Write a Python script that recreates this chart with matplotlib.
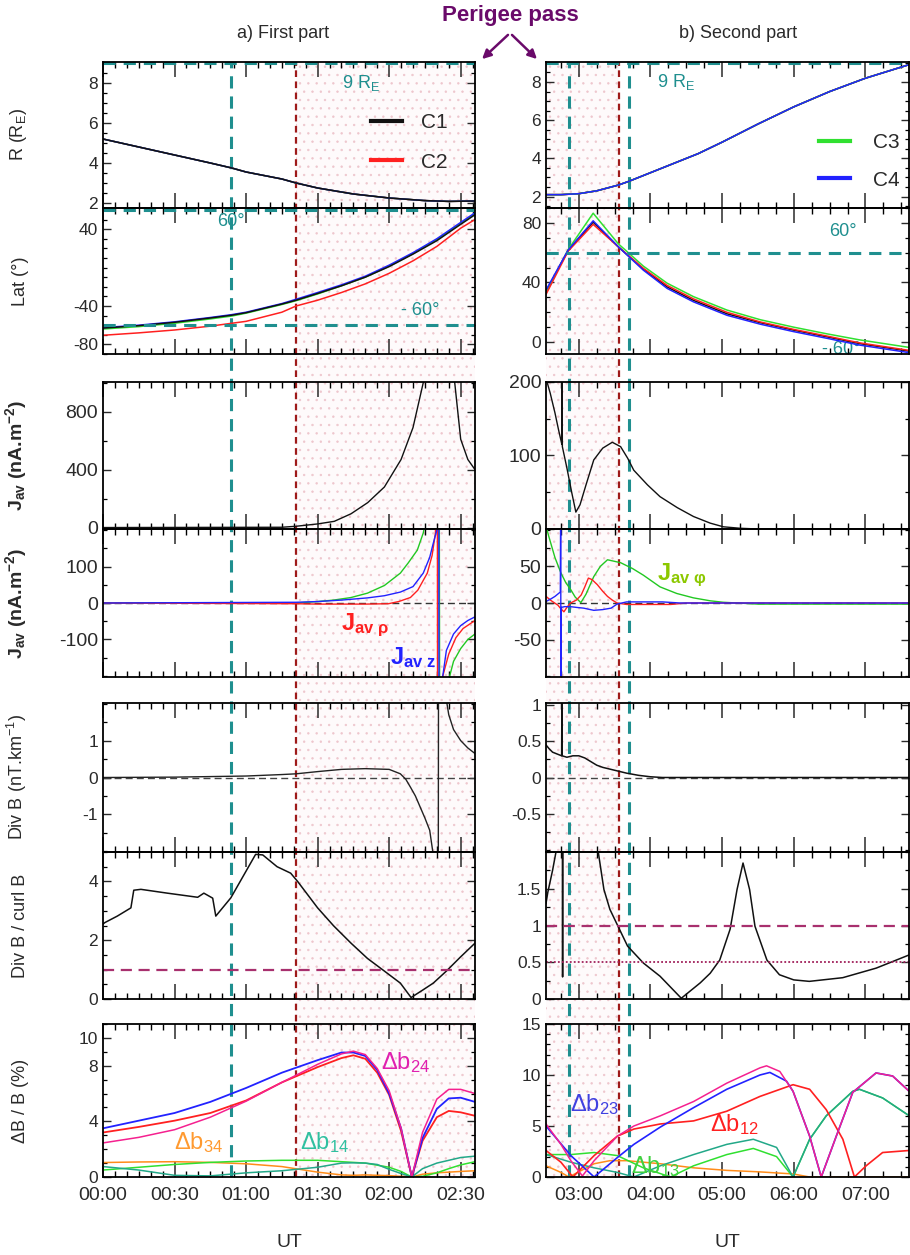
import matplotlib
matplotlib.use('Agg')
import matplotlib.pyplot as plt
from matplotlib.ticker import MultipleLocator, FuncFormatter
from matplotlib.lines import Line2D
from matplotlib.patches import FancyArrowPatch

plt.rcParams['font.family'] = ['Liberation Sans', 'DejaVu Sans']
plt.rcParams['mathtext.fontset'] = 'custom'
plt.rcParams['mathtext.rm'] = 'Liberation Sans'
plt.rcParams['mathtext.it'] = 'Liberation Sans:italic'
plt.rcParams['mathtext.bf'] = 'Liberation Sans:bold'
plt.rcParams['hatch.linewidth'] = 0.5
plt.rcParams['axes.unicode_minus'] = False

# ---------------- data (time in minutes after 00:00 UT) ----------------
# perigee pass / latitude crossings
t_perigee = [81, 213.3]
t_lat60_left = [53.5]
t_lat60_right = [171.7, 221.7]

# R (RE)
r_t_left = [0, 15, 30, 45, 54, 60, 75, 81, 90, 105, 120, 135, 145, 156]
r_left = [5.2, 4.8, 4.4, 4.0, 3.75, 3.55, 3.2, 3.0, 2.75, 2.45, 2.25, 2.12, 2.08, 2.1]
r_t_right = [152.5, 165, 180, 195, 213, 222, 240, 260, 280, 300, 330, 360, 390, 420, 456]
r_right = [2.1, 2.1, 2.15, 2.3, 2.6, 2.8, 3.25, 3.75, 4.25, 4.85, 5.8, 6.7, 7.5, 8.2, 8.9]

# latitude
lat_t_left = [0, 15, 30, 45, 54, 60, 75, 81, 90, 100, 110, 120, 130, 140, 150, 156]
lat_c1_left = [-63, -60.5, -57, -52.5, -49.6, -47, -38, -34, -27, -19, -10, 1, 14, 28, 45, 55]
lat_c2_left = [-70.5, -68, -65, -61, -58, -56, -46.5, -40, -34, -26, -17, -6, 7, 22, 41, 50]
lat_c3_left = [-64, -61.5, -58, -53.5, -50.5, -47.5, -38.5, -34.5, -27.5, -19, -10, 1.5, 14.5, 29, 46, 56]
lat_c4_left = [-62.5, -60, -56.5, -52, -49, -46.5, -37.5, -33, -26, -18, -9, 2.5, 15.5, 30, 47, 57]
lat_t_right = [152.5, 171, 192, 213, 234, 254, 276, 304, 332, 360, 388, 415, 456]
lat_c1_right = [34, 61.5, 80.5, 64, 49, 37, 28, 19, 13, 8, 3.5, -1, -6]
lat_c2_right = [32, 61, 79, 64, 49.5, 38, 29, 20, 13.5, 8.5, 4, -0.5, -5.5]
lat_c3_right = [33, 62, 86.5, 66, 51, 39.5, 30.5, 21.5, 15, 10, 5.5, 1.5, -3.5]
lat_c4_right = [34.9, 61.7, 81.4, 64, 48.3, 36, 27, 18, 12, 7, 2.5, -2, -7]

# |J av|
jav_t_left = [0, 75, 81, 90, 97, 104, 111, 118, 125, 130, 134.3, 136, 146, 147.5, 150, 153, 156]
jav_left = [0, 2, 9, 25, 43, 95, 172, 280, 470, 690, 1000, 1200, 1200, 1000, 610, 470, 400]
jav_t_right = [152.5, 156, 160, 163, 165.8, 166, 166.2, 170, 174, 177.5, 181, 186, 192.5, 200, 208, 215,
               221, 226, 237.5, 248, 262.5, 276, 290, 301, 315, 330, 456]
jav_right = [205, 185, 158, 135, 115, 205, 112, 83, 50, 23, 33, 60, 94, 110, 118, 112,
             96, 80, 60, 44, 29, 17, 8, 3, 1, 0, 0]

# J components (left)
jphi_t_left = [0, 81, 90, 96.7, 104, 110.9, 118, 124.7, 128, 131.8, 134.3, 135.5, 141, 141.2, 145, 147, 150, 153, 156]
jphi_left = [0, 0, 4, 8, 15, 27, 48, 82, 110, 145, 192, 230, 400, -400, -210, -160, -125, -100, -85]
jz_t_left = [0, 81, 90, 100, 110.9, 118, 124.7, 130, 134.3, 137, 138.5, 140, 140.8, 140.9, 142.5, 144, 147, 150, 153, 156]
jz_left = [0, 2, 4, 8, 14, 20, 30, 45, 82, 125, 164, 200, 400, -400, -200, -130, -85, -62, -48, -38]
jrho_t_left = [0, 81, 90, 100, 110, 119.7, 124, 128.9, 132, 136, 138, 139.4, 140.2, 140.3, 142.5, 145, 148, 151, 156]
jrho_left = [0, -2, -3, -3, -3, -2, 4, 15, 35, 82, 130, 192, 400, -400, -200, -140, -95, -70, -48]

# J components (right)
jphi_t_right = [152.5, 155, 160, 165, 169, 173.3, 177, 181.7, 186, 192.5, 198, 204, 215, 225, 234, 248,
                262, 276, 290, 301, 330, 456]
jphi_right = [105, 90, 62, 41, 28, 18, 8, 0.5, 12, 36, 50, 59, 55, 47, 38, 22, 13, 7, 3, 1, -1.5, -1.5]
jrho_t_right = [152.5, 157, 162.5, 165, 167.5, 170, 173, 178, 182, 185, 188, 191, 195.5, 200, 204, 208,
                212, 220, 257, 270, 456]
jrho_right = [9, 3, -3, -8, -12, -6, 0, 4, 11, 22, 34, 32, 25, 16, 9, 4, 0, -2, -2, 0, 0]
jz_t_right = [152.5, 157, 160, 164.5, 164.8, 165.0, 165.3, 168, 173, 178, 184, 192.5, 200, 207, 212, 220,
              250, 265, 456]
jz_right = [2, 6, 9, 15, 150, -150, -6, -5, -5, -6, -7, -10, -9, -7, -1.5, 1.5, 1.5, 0, 0]

# Div B
divb_t_left = [0, 30, 60, 75, 81, 90, 100, 110, 120, 124.7, 127, 129, 131, 133, 135, 137, 138.5, 140.6,
               140.7, 144, 145, 147, 150, 153, 156]
divb_left = [0, 0.01, 0.04, 0.08, 0.1, 0.16, 0.22, 0.24, 0.22, 0.1, -0.05, -0.27, -0.5, -0.8, -1.1, -1.43,
             -2.1, -3, 3, 2.1, 1.7, 1.3, 1.0, 0.8, 0.65]
divb_t_right = [152.5, 155, 158, 165.6, 165.8, 166, 170, 175, 180, 185, 190, 195, 200, 210, 220, 230, 240,
                250, 456]
divb_right = [0.45, 0.4, 0.35, 0.3, 1.1, 0.3, 0.28, 0.3, 0.3, 0.27, 0.22, 0.17, 0.14, 0.1, 0.06, 0.03,
              0.01, 0, 0]

# Div B / curl B
ratio_t_left = [0, 0.8, 6, 11.7, 12.9, 15.9, 27, 39.7, 42.3, 46, 47.3, 53.6, 60.7, 64, 67, 73, 78.7, 81.6,
                90, 96.7, 104, 110.9, 118, 124.7, 129.2, 134, 138.5, 144, 149.8, 156]
ratio_left = [2.55, 2.6, 2.82, 3.1, 3.7, 3.73, 3.6, 3.46, 3.6, 3.43, 2.82, 3.44, 4.45, 4.92, 4.9, 4.5, 4.28,
              4.0, 3.1, 2.49, 1.9, 1.38, 0.95, 0.54, 0.05, 0.3, 0.54, 0.95, 1.42, 1.9]
ratio_t_right = [152.5, 154, 158, 162, 164, 166.2, 166.4, 166.6, 180, 195.8, 201, 206, 212.5, 220.8, 234,
                 248, 265.8, 281.7, 290, 298, 306.7, 312.5, 317.5, 323, 327.5, 337.5, 348, 360, 373, 401,
                 429, 456.7]
ratio_right = [1.3, 1.45, 1.75, 2.1, 2.5, 2.5, 0.3, 2.5, 3.5, 2.05, 1.49, 1.22, 1.0, 0.72, 0.49, 0.31,
               0.01, 0.22, 0.35, 0.53, 0.95, 1.49, 1.85, 1.49, 0.99, 0.53, 0.33, 0.26, 0.24, 0.29,
               0.42, 0.6]

# Delta B / B (%)
db_t_left = [0, 15, 30, 45, 60, 75, 90, 100, 105, 110, 115, 120, 125, 129.5, 134, 140, 145, 150, 156]
db23_left = [3.5, 4.05, 4.6, 5.4, 6.4, 7.5, 8.4, 8.95, 8.95, 8.7, 7.7, 6.0, 3.5, 0, 2.8, 4.9, 5.65, 5.7, 5.4]
db24_left = [2.45, 2.85, 3.4, 4.3, 5.45, 6.8, 8.1, 8.85, 9.05, 8.8, 7.8, 6.2, 3.5, 0, 3.2, 5.6, 6.3, 6.3, 6.0]
db12_left = [3.2, 3.6, 4.05, 4.6, 5.5, 6.8, 7.9, 8.55, 8.75, 8.5, 7.5, 5.9, 3.3, 0, 2.6, 4.3, 4.75, 4.65, 4.4]
db34_left = [1.04, 1.08, 1.1, 1.05, 0.95, 0.75, 0.35, 0.15, 0.12, 0.15, 0.12, 0.1, 0.05, 0, 0.2, 0.3, 0.35, 0.4, 0.45]
db13_left = [0.5, 0.7, 0.9, 1.05, 1.15, 1.2, 1.2, 1.1, 1.05, 1.0, 0.85, 0.7, 0.4, 0, 0.05, 0.3, 0.6, 0.87, 1.1]
db14_left = [0.75, 0.5, 0.12, 0.08, 0.3, 0.45, 0.7, 1.0, 1.02, 1.0, 0.9, 0.55, 0.25, 0, 0.6, 1.0, 1.2, 1.4, 1.5]

db24_t_right = [152.5, 165, 173.3, 183, 192.8, 212.2, 226.1, 248.3, 276.1, 303.9, 331.7, 337.2, 348.3, 359.4,
                373.3, 383, 395.6, 409.4, 428.9, 442.8, 456.7]
db24_right = [5.2, 3.2, 1.6, 0.1, 1.6, 4.0, 5.0, 6.0, 7.4, 9.2, 10.7, 10.9, 10.35, 8.4, 4.0, 0, 4.0, 8.3,
              10.2, 9.9, 8.4]
db23_t_right = [152.5, 173.3, 192.8, 212.2, 226.1, 248.3, 276.1, 303.9, 331.7, 340, 353.9, 359.4, 373.3, 383,
                395.6, 409.4, 428.9, 442.8, 456.7]
db23_right = [5.0, 2.1, 0, 1.9, 3.2, 4.9, 6.8, 8.6, 10.0, 10.25, 9.4, 8.4, 4.0, 0, 4.0, 8.3, 10.2, 9.9, 8.4]
db12_t_right = [152.5, 165, 175, 192.8, 212.2, 226.1, 248.3, 276.1, 303.9, 331.7, 359.4, 373.3, 387.2, 401.1,
                410.8, 420.6, 434.4, 456.7]
db12_right = [2.6, 1.45, 0, 2.1, 4.0, 4.7, 5.2, 5.5, 6.45, 7.9, 9.05, 8.6, 6.6, 3.7, 0, 1.1, 2.4, 2.6]
db14_t_right = [152.5, 173.3, 192.8, 212.2, 226.1, 248.3, 276.1, 303.9, 326.1, 345.6, 359.4, 373.3, 387.2,
                409.4, 415, 434.4, 456.7]
db14_right = [2.2, 1.45, 0.9, 0.45, 0, 1.1, 2.2, 3.2, 3.7, 2.9, 0, 3.7, 6.0, 8.4, 8.6, 7.75, 6.0]
db13_t_right = [152.5, 173.3, 192.8, 212.2, 234, 256.7, 276.1, 303.9, 326.1, 345.6, 359.4, 373.3, 387.2,
                409.4, 415, 434.4, 456.7]
db13_right = [2.2, 2.2, 2.4, 2.1, 0.9, 0, 1.1, 2.2, 2.8, 2.0, 0, 3.7, 6.0, 8.4, 8.6, 7.75, 6.0]
db34_t_right = [152.5, 165, 171.7, 192.8, 206, 220, 248.3, 276.1, 303.9, 331.7, 359.4, 373.3, 456.7]
db34_right = [1.1, 0.45, 0, 1.3, 1.6, 1.6, 1.3, 0.9, 0.65, 0.5, 0.3, 0, 0]

# ---------------- styling ----------------
TEAL = '#1f8f8f'
BROWN = '#9e1a1a'
BLK, RED, GRN, BLU = '#111111', '#ff2020', '#30e030', '#2222ff'
MAG, ORA, TEA = '#f5208f', '#ff8c1a', '#22a888'
PURP = '#6a0a6a'
TXT = '#2a2a2a'

W, H = 910, 1255
fig = plt.figure(figsize=(9.1, 12.55), dpi=100)


def rect(x0, x1, y0, y1):
    return [x0 / W, 1 - y1 / H, (x1 - x0) / W, (y1 - y0) / H]


rows = [(62, 208), (208, 354), (382, 529), (529, 677), (703, 852), (852, 999), (1024, 1177)]
cols = {'left': (103, 475, (0, 156)), 'right': (546, 909, (152.5, 456.5))}


def fmt_time(m, pos):
    m = int(round(m))
    return f'{m // 60:02d}:{m % 60:02d}'


axes = {}
for side, (x0, x1, xlim) in cols.items():
    bg = fig.add_axes(rect(x0, x1, rows[0][0], rows[-1][1]))
    bg.set_zorder(0)
    bg.set_xlim(*xlim)
    bg.set_ylim(0, 1)
    bg.axis('off')
    bg.axvspan(t_perigee[0], t_perigee[1], facecolor='#fefafb', edgecolor='#eec6cd',
               hatch='..', lw=0)
    lines60 = t_lat60_left if side == 'left' else t_lat60_right
    for t in lines60:
        bg.axvline(t, color=TEAL, lw=2.2, ls=(0, (4, 2.6)))
    if side == 'left':
        bg.axvline(t_perigee[0], color=BROWN, lw=1.6, ls=(0, (3, 2)))
    else:
        bg.axvline(t_perigee[1], color=BROWN, lw=1.6, ls=(0, (3, 2)))

    panel = []
    for i, (y0, y1) in enumerate(rows):
        ax = fig.add_axes(rect(x0, x1, y0, y1))
        ax.set_zorder(1)
        ax.set_facecolor('none')
        ax.set_xlim(*xlim)
        for s in ax.spines.values():
            s.set_linewidth(1.3)
        if side == 'left':
            ax.xaxis.set_major_locator(MultipleLocator(30))
            ax.xaxis.set_minor_locator(MultipleLocator(5))
        else:
            ax.set_xticks([180, 240, 300, 360, 420])
            ax.xaxis.set_minor_locator(MultipleLocator(15))
        ax.xaxis.set_major_formatter(FuncFormatter(fmt_time))
        ax.yaxis.set_major_formatter(FuncFormatter(lambda v, pos: f'{v:g}'))
        ax.tick_params(axis='x', which='major', direction='in', top=True, bottom=True,
                       length=11, width=1.1, labelsize=14, colors=TXT, pad=7)
        ax.tick_params(axis='x', which='minor', direction='in', top=True, bottom=True,
                       length=4.5, width=1.0)
        ax.tick_params(axis='y', which='major', direction='in', left=True, right=True,
                       length=6, width=1.0, labelsize=12.5, colors=TXT)
        ax.tick_params(axis='y', which='minor', direction='in', left=True, right=True,
                       length=3, width=0.9)
        if i < len(rows) - 1:
            ax.tick_params(axis='x', labelbottom=False)
        panel.append(ax)
    axes[side] = panel

L, R = axes['left'], axes['right']

# ---- panel 1: R ----
ax = L[0]
ax.plot(r_t_left, r_left, color=RED, lw=1.1)
ax.plot(r_t_left, r_left, color=GRN, lw=1.1)
ax.plot(r_t_left, r_left, color=BLU, lw=1.1)
ax.plot(r_t_left, r_left, color=BLK, lw=1.1)
ax.set_ylim(1.75, 9.05)
ax.set_yticks([2, 4, 6, 8])
ax.yaxis.set_minor_locator(MultipleLocator(0.5))
ax.axhline(9, color=TEAL, lw=2.2, ls=(0, (4, 2.6)))
ax.text(108, 8.0, '9 R$_\\mathrm{E}$', color=TEAL, fontsize=13, ha='center', va='center')
ax.set_ylabel('R (R$_\\mathrm{E}$)', fontsize=13, color=TXT)
ax.legend(handles=[Line2D([], [], color=BLK, lw=3), Line2D([], [], color=RED, lw=3)],
          labels=['C1', 'C2'], frameon=False, fontsize=15, loc='center left',
          bbox_to_anchor=(0.67, 0.45), handlelength=1.5, handletextpad=0.9, labelspacing=1.0,
          labelcolor=TXT)

ax = R[0]
ax.plot(r_t_right, r_right, color=RED, lw=1.1)
ax.plot(r_t_right, r_right, color=BLK, lw=1.1)
ax.plot(r_t_right, r_right, color=GRN, lw=1.1)
ax.plot(r_t_right, r_right, color=BLU, lw=1.1)
ax.set_ylim(1.4, 9.05)
ax.set_yticks([2, 4, 6, 8])
ax.yaxis.set_minor_locator(MultipleLocator(0.5))
ax.axhline(9, color=TEAL, lw=2.2, ls=(0, (4, 2.6)))
ax.text(261.7, 8.0, '9 R$_\\mathrm{E}$', color=TEAL, fontsize=13, ha='center', va='center')
ax.legend(handles=[Line2D([], [], color=GRN, lw=3), Line2D([], [], color=BLU, lw=3)],
          labels=['C3', 'C4'], frameon=False, fontsize=15, loc='center left',
          bbox_to_anchor=(0.70, 0.32), handlelength=1.5, handletextpad=1.1, labelspacing=0.9,
          labelcolor=TXT)

# ---- panel 2: latitude ----
ax = L[1]
ax.plot(lat_t_left, lat_c2_left, color=RED, lw=1.1)
ax.plot(lat_t_left, lat_c3_left, color=GRN, lw=1.1)
ax.plot(lat_t_left, lat_c4_left, color=BLU, lw=1.1)
ax.plot(lat_t_left, lat_c1_left, color=BLK, lw=1.1)
ax.set_ylim(-90, 62)
ax.set_yticks([-80, -40, 40])
ax.yaxis.set_minor_locator(MultipleLocator(10))
ax.axhline(60, color=TEAL, lw=2.2, ls=(0, (4, 2.6)))
ax.axhline(-60, color=TEAL, lw=2.2, ls=(0, (4, 2.6)))
ax.text(53.5, 48, '60°', color=TEAL, fontsize=13, ha='center', va='center')
ax.text(133, -45, '- 60°', color=TEAL, fontsize=13, ha='center', va='center')
ax.set_ylabel('Lat (°)', fontsize=13, color=TXT)

ax = R[1]
ax.text(400.8, 74.5, '60°', color=TEAL, fontsize=13, ha='center', va='center')
ax.text(400, -5, '- 60°', color=TEAL, fontsize=13, ha='center', va='center', zorder=0)
ax.plot(lat_t_right, lat_c1_right, color=BLK, lw=1.1)
ax.plot(lat_t_right, lat_c3_right, color=GRN, lw=1.1)
ax.plot(lat_t_right, lat_c2_right, color=RED, lw=1.1)
ax.plot(lat_t_right, lat_c4_right, color=BLU, lw=1.1)
ax.set_ylim(-8, 90)
ax.set_yticks([0, 40, 80])
ax.yaxis.set_minor_locator(MultipleLocator(10))
ax.axhline(60, color=TEAL, lw=2.2, ls=(0, (4, 2.6)))

# ---- panel 3: |J av| ----
jlabel = r'$\mathbf{J_{av}}$ (nA.m$^{\mathbf{-2}}$)'
ax = L[2]
ax.plot(jav_t_left, jav_left, color=BLK, lw=1.0)
ax.set_ylim(-10, 1005)
ax.set_yticks([0, 400, 800])
ax.yaxis.set_minor_locator(MultipleLocator(200))
ax.tick_params(axis='y', labelsize=14)
ax.set_ylabel(jlabel, fontsize=14, fontweight='bold', color=TXT)

ax = R[2]
ax.plot(jav_t_right, jav_right, color=BLK, lw=1.0)
ax.set_ylim(0, 200)
ax.set_yticks([0, 100, 200])
ax.yaxis.set_minor_locator(MultipleLocator(50))
ax.tick_params(axis='y', labelsize=14)

# ---- panel 4: J components ----
ax = L[3]
ax.axhline(0, color='#333333', lw=1.0, ls=(0, (5, 3)))
ax.plot(jphi_t_left, jphi_left, color='#22c822', lw=1.0)
ax.plot(jrho_t_left, jrho_left, color=RED, lw=1.0)
ax.plot(jz_t_left, jz_left, color=BLU, lw=1.0)
ax.set_ylim(-203, 203)
ax.set_yticks([-100, 0, 100])
ax.yaxis.set_minor_locator(MultipleLocator(50))
ax.tick_params(axis='y', labelsize=14)
ax.set_ylabel(jlabel, fontsize=14, fontweight='bold', color=TXT)
ax.text(110, -60, r'$\mathbf{J_{av\ ρ}}$', color=RED, fontsize=17, ha='center', va='center')
ax.text(130, -150, r'$\mathbf{J_{av\ z}}$', color=BLU, fontsize=17, ha='center', va='center')

ax = R[3]
ax.axhline(0, color='#333333', lw=1.0, ls=(0, (5, 3)))
ax.plot(jphi_t_right, jphi_right, color='#22c822', lw=1.0)
ax.plot(jrho_t_right, jrho_right, color=RED, lw=1.0)
ax.plot(jz_t_right, jz_right, color=BLU, lw=1.0)
ax.set_ylim(-101, 101)
ax.set_yticks([-50, 0, 50])
ax.yaxis.set_minor_locator(MultipleLocator(25))
ax.tick_params(axis='y', labelsize=14)
ax.text(266, 38, r'$\mathbf{J_{av\ φ}}$', color='#8cc800', fontsize=17, ha='center', va='center')

# ---- panel 5: Div B ----
ax = L[4]
ax.axhline(0, color='#444444', lw=1.0, ls=(0, (5, 3)))
ax.plot(divb_t_left, divb_left, color='#222222', lw=1.0)
ax.set_ylim(-2.02, 2.02)
ax.set_yticks([-1, 0, 1])
ax.yaxis.set_minor_locator(MultipleLocator(0.5))
ax.set_ylabel('Div B (nT.km$^{-1}$)', fontsize=13, color=TXT)

ax = R[4]
ax.axhline(0, color='#444444', lw=1.0, ls=(0, (5, 3)))
ax.plot(divb_t_right, divb_right, color='#111111', lw=1.1)
ax.set_ylim(-1.03, 1.03)
ax.set_yticks([-0.5, 0, 0.5, 1])
ax.yaxis.set_minor_locator(MultipleLocator(0.25))

# ---- panel 6: Div B / curl B ----
ax = L[5]
ax.plot(ratio_t_left, ratio_left, color=BLK, lw=1.1)
ax.axhline(1, color='#a8306e', lw=1.6, ls=(0, (5, 3)))
ax.set_ylim(0, 5)
ax.set_yticks([0, 2, 4])
ax.yaxis.set_minor_locator(MultipleLocator(0.5))
ax.set_ylabel('Div B / curl B', fontsize=13, color=TXT)

ax = R[5]
ax.plot(ratio_t_right, ratio_right, color=BLK, lw=1.1)
ax.axhline(1, color='#a8306e', lw=1.6, ls=(0, (5, 3)))
ax.axhline(0.5, color='#a0205a', lw=1.3, ls=(0, (1, 1.2)))
ax.set_ylim(0, 2)
ax.set_yticks([0, 0.5, 1, 1.5])
ax.yaxis.set_minor_locator(MultipleLocator(0.25))

# ---- panel 7: Delta B / B ----
ax = L[6]
ax.plot(db_t_left, db34_left, color=ORA, lw=1.1)
ax.plot(db_t_left, db13_left, color=GRN, lw=1.1)
ax.plot(db_t_left, db14_left, color=TEA, lw=1.1)
ax.plot(db_t_left, db12_left, color=RED, lw=1.3)
ax.plot(db_t_left, db23_left, color=BLU, lw=1.3)
ax.plot(db_t_left, db24_left, color=MAG, lw=1.1)
ax.set_ylim(0, 11)
ax.set_yticks([0, 4, 8, 10])
ax.yaxis.set_minor_locator(MultipleLocator(1))
ax.set_ylabel('ΔB / B (%)', fontsize=13, color=TXT)
ax.set_xlabel('UT', fontsize=14, color=TXT, labelpad=22)
ax.text(40, 2.45, 'Δb$_{34}$', color='#ff9a30', fontsize=17, ha='center', va='center')
ax.text(93, 2.45, 'Δb$_{14}$', color='#30c0a0', fontsize=17, ha='center', va='center')
ax.text(127, 8.2, 'Δb$_{24}$', color='#e020b0', fontsize=17, ha='center', va='center')

ax = R[6]
ax.plot(db34_t_right, db34_right, color=ORA, lw=1.1)
ax.plot(db13_t_right, db13_right, color=GRN, lw=1.1)
ax.plot(db14_t_right, db14_right, color=TEA, lw=1.1)
ax.plot(db12_t_right, db12_right, color=RED, lw=1.2)
ax.plot(db23_t_right, db23_right, color=BLU, lw=1.2)
ax.plot(db24_t_right, db24_right, color=MAG, lw=1.1)
ax.set_ylim(0, 15)
ax.set_yticks([0, 5, 10, 15])
ax.yaxis.set_minor_locator(MultipleLocator(1))
ax.set_xlabel('UT', fontsize=14, color=TXT, labelpad=22)
ax.text(193, 7.15, 'Δb$_{23}$', color='#4040e0', fontsize=17, ha='center', va='center')
ax.text(310, 5.1, 'Δb$_{12}$', color=RED, fontsize=17, ha='center', va='center')
ax.text(244, 1.0, 'Δb$_{13}$', color='#40d040', fontsize=17, ha='center', va='center')

for ax in L:
    ax.yaxis.set_label_coords(-0.2, 0.5)

# ---- headers ----
fig.text(283 / W, 1 - 33 / H, 'a) First part', fontsize=13, ha='center', va='center', color=TXT)
fig.text(738 / W, 1 - 33 / H, 'b) Second part', fontsize=13, ha='center', va='center', color=TXT)
fig.text(510 / W, 1 - 15 / H, 'Perigee pass', fontsize=16, fontweight='bold', ha='center',
         va='center', color=PURP)
for xe in (480, 539):
    fig.add_artist(FancyArrowPatch((510 / W, 1 - 33 / H), (xe / W, 1 - 61 / H),
                                   transform=fig.transFigure, arrowstyle='-|>',
                                   mutation_scale=13, color=PURP, lw=1.8))

fig.savefig('out.png', dpi=100)
